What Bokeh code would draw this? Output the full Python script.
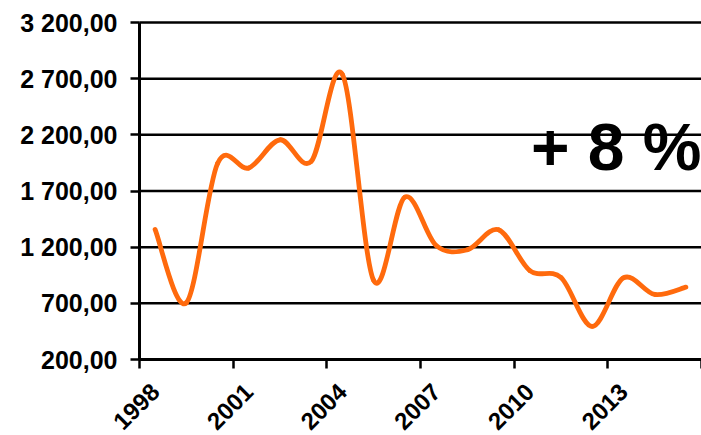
import numpy as np
from bokeh.plotting import figure
from bokeh.models import FixedTicker, Label, Range1d
from bokeh.embed import file_html
from bokeh.resources import INLINE

years = [1998, 1999, 2000, 2001, 2002, 2003, 2004, 2005, 2006, 2007, 2008,
         2009, 2010, 2011, 2012, 2013, 2014, 2015]
values = [1357, 705, 1945, 1905, 2156, 1963, 2737, 903, 1645, 1215, 1177,
          1355, 992, 930, 494, 927, 779, 844]
y_ticks = [200, 700, 1200, 1700, 2200, 2700, 3200]
y_labels = ["200,00", "700,00", "1 200,00", "1 700,00", "2 200,00", "2 700,00", "3 200,00"]
x_label_years = [1998, 2001, 2004, 2007, 2010, 2013]
annotation = "+ 8 %"

FONT = "Liberation Sans"

# layout (pixels): plot area spans x 139..701 and y 22..359 inside a 701x435 canvas
W, H = 701, 435
TOP, LEFT, BOTTOM = 22, 139, 359
x_start, x_end = years[0] - 0.5, years[-1] + 0.5
px_per_year = (W - LEFT) / (x_end - x_start)
px_per_unit = (BOTTOM - TOP) / (y_ticks[-1] - y_ticks[0])
x_low = x_start - LEFT / px_per_year
y_low = y_ticks[0] - (H - BOTTOM) / px_per_unit
y_high = y_ticks[-1] + TOP / px_per_unit

p = figure(width=W, height=H, output_backend="svg", toolbar_location=None,
           x_range=Range1d(x_low, x_end), y_range=Range1d(y_low, y_high),
           min_border=0)
p.outline_line_color = None
p.background_fill_color = "white"
p.border_fill_color = "white"

# horizontal grid lines across the plot area only
p.xgrid.visible = False
p.ygrid.visible = False
p.segment(x0=[x_start] * len(y_ticks), y0=y_ticks,
          x1=[x_end] * len(y_ticks), y1=y_ticks,
          line_color="black", line_width=2.5)

# y axis drawn at the left edge of the plot area
p.yaxis.fixed_location = x_start
p.yaxis.ticker = FixedTicker(ticks=y_ticks)
p.yaxis.bounds = (y_ticks[0], y_ticks[-1])
p.yaxis.major_label_overrides = {t: l for t, l in zip(y_ticks, y_labels)}
p.yaxis.axis_line_width = 3
p.yaxis.axis_line_color = "black"
p.yaxis.major_tick_line_width = 2.5
p.yaxis.major_tick_out = 9
p.yaxis.major_tick_in = 0
p.yaxis.minor_tick_line_color = None
p.yaxis.major_label_text_font = FONT
p.yaxis.major_label_text_font_style = "bold"
p.yaxis.major_label_text_font_size = "25px"
p.yaxis.major_label_text_color = "black"
p.yaxis.major_label_standoff = 13

# x (category) axis drawn at the 200 level
bounds = [yr - 0.5 for yr in x_label_years] + [x_end]
p.xaxis.fixed_location = y_ticks[0]
p.xaxis.bounds = (x_start, x_end)
p.xaxis.ticker = FixedTicker(ticks=x_label_years, minor_ticks=bounds)
p.xaxis.major_tick_out = 0
p.xaxis.major_tick_in = 0
p.xaxis.minor_tick_out = 9
p.xaxis.minor_tick_in = 0
p.xaxis.minor_tick_line_width = 2.5
p.xaxis.minor_tick_line_color = "black"
p.xaxis.axis_line_width = 3
p.xaxis.axis_line_color = "black"
p.xaxis.major_label_orientation = np.pi / 4
p.xaxis.major_label_text_font = FONT
p.xaxis.major_label_text_font_style = "bold"
p.xaxis.major_label_text_font_size = "24px"
p.xaxis.major_label_text_color = "black"
p.xaxis.major_label_standoff = 19

# smooth line via cubic bezier segments (Catmull-Rom style control points)
x = np.array(years, dtype=float)
y = np.array(values, dtype=float)
xp = np.concatenate([[x[0]], x, [x[-1]]])
yp = np.concatenate([[y[0]], y, [y[-1]]])
n = len(x)
x0, y0 = x[:-1], y[:-1]
x1, y1 = x[1:], y[1:]
cx0 = x0 + (xp[2:n + 1] - xp[0:n - 1]) / 6
cy0 = y0 + (yp[2:n + 1] - yp[0:n - 1]) / 6
cx1 = x1 - (xp[3:n + 2] - xp[1:n]) / 6
cy1 = y1 - (yp[3:n + 2] - yp[1:n]) / 6
p.bezier(x0=x0, y0=y0, x1=x1, y1=y1, cx0=cx0, cy0=cy0, cx1=cx1, cy1=cy1,
         line_color="#FF6A0D", line_width=4.8, line_cap="round")

p.add_layout(Label(x=x_end, y=2092, text=annotation, text_align="right",
                   text_baseline="alphabetic", text_font=FONT,
                   text_font_style="bold", text_font_size="66px",
                   text_color="black"))

open("out.html", "w").write(file_html(p, INLINE))
